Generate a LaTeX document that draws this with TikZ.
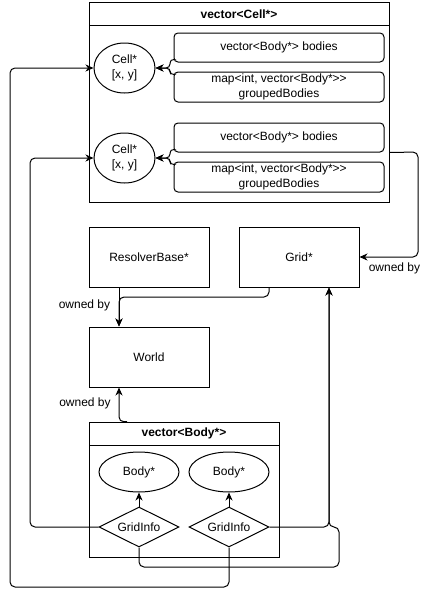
\documentclass[tikz,border=0pt]{standalone}
\usepackage{fontspec}
\setmainfont{Liberation Sans}
\usetikzlibrary{arrows.meta,shapes.geometric}
\begin{document}
\begin{tikzpicture}[x=1pt,y=-1pt,
  every node/.style={font=\fontsize{12}{14.5}\selectfont, inner sep=0pt, align=center},
  shp/.style={draw, line width=1pt},
  box/.style={shp, minimum width=120pt, minimum height=60pt},
  rbox/.style={shp, rounded corners=4pt, minimum width=210pt, minimum height=29pt},
  ell/.style={shp, ellipse, minimum width=80pt, minimum height=40pt},
  cellell/.style={shp, ellipse, minimum width=61pt, minimum height=50pt},
  diam/.style={shp, diamond, aspect=2, minimum width=80pt, minimum height=40pt},
  ttl/.style={font=\fontsize{12}{14.5}\selectfont\bfseries},
  conn/.style={line width=1pt, rounded corners=5pt, -{Stealth[length=8pt,width=7pt,inset=2.5pt]}},
  brace/.style={line width=1pt, rounded corners=4pt, -{Stealth[length=8pt,width=7pt,inset=2.5pt]}},
  plain/.style={line width=1pt}]
\useasboundingbox (0,0) rectangle (429,597);

% vector<Cell*> container
\node[shp, minimum width=300pt, minimum height=200pt] (cellvec) at (239,102) {};
\draw[plain] (89,25) -- (389,25);
\node[ttl] (celltitle) at (239,14) {vector<Cell*>};

\node[cellell] (cell1) at (124.5,68) {Cell*\\{[x, y]}};
\node[cellell] (cell2) at (124.5,158) {Cell*\\{[x, y]}};

\node[rbox] (r1) at (279,47.5) {vector<Body*> bodies};
\node[rbox, minimum height=30pt] (r2) at (279,87) {map<int, vector<Body*>{}>\\groupedBodies};
\node[rbox] (r3) at (279,137.5) {vector<Body*> bodies};
\node[rbox, minimum height=30pt] (r4) at (279,177) {map<int, vector<Body*>{}>\\groupedBodies};

\draw[brace] ([yshift=3pt]r1.south west) -- (170,59) -- (170,68) -- (cell1.east);
\draw[brace] ([yshift=-3pt]r2.north west) -- (170,75) -- (170,68) -- (cell1.east);
\draw[brace] ([yshift=3pt]r3.south west) -- (170,149) -- (170,158) -- (cell2.east);
\draw[brace] ([yshift=-3pt]r4.north west) -- (170,165) -- (170,158) -- (cell2.east);

% middle boxes
\node[box] (resolver) at (149,257) {ResolverBase*};
\node[box] (grid) at (299,257) {Grid*};
\node[box] (world) at (149,357) {World};

\draw[conn] (cellvec.east |- r3.south) -- (418,152) -- (418,257) -- (grid.east);
\node (lbl3) at (394.5,268) {owned by};

\draw[conn] ([xshift=-30pt]resolver.south) -- ([xshift=-30pt]world.north);
\draw[conn] ([xshift=-30pt]grid.south) -- (269,297) -- (119,297) -- ([xshift=-30pt]world.north);
\node (lbl1) at (84.5,305) {owned by};

% vector<Body*> container
\node[shp, minimum width=190pt, minimum height=135pt] (bodyvec) at (184,489.5) {};
\draw[plain] (89,445) -- (279,445);
\node[ttl] (bodytitle) at (184,433) {vector<Body*>};

\draw[conn] ([xshift=-57pt]bodyvec.north) -- (119,422) -- ([xshift=-30pt]world.south);
\node (lbl2) at (85,403) {owned by};

\node[ell] (body1) at (139,472) {Body*};
\node[ell] (body2) at (229,472) {Body*};
\node[diam] (gi1) at (139,527) {GridInfo};
\node[diam] (gi2) at (229,527) {GridInfo};

\draw[conn] (gi1.north) -- (body1.south);
\draw[conn] (gi2.north) -- (body2.south);

\draw[conn] (gi1.west) -- (30,527) -- (30,158) -- (cell2.west);
\draw[conn] (gi2.south) -- (229,587) -- (10,587) -- (10,68) -- (cell1.west);
\draw[conn] (gi2.east) -- (329,527) -- ([xshift=30pt]grid.south);
\draw[conn] (gi1.south) -- (139,567) -- (339,567) -- (339,527) -- (329,527) -- ([xshift=30pt]grid.south);
\end{tikzpicture}
\end{document}
